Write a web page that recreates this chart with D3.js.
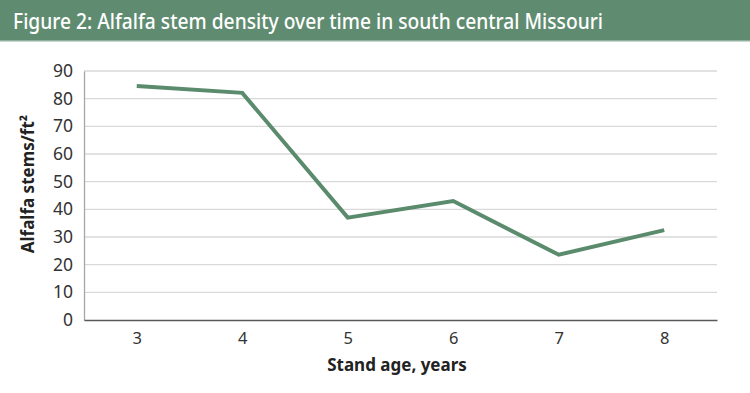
<!DOCTYPE html>
<html><head><meta charset="utf-8">
<script src="https://cdn.jsdelivr.net/npm/d3@7"></script>
<style>body{margin:0;background:#fff}svg{display:block}</style>
</head><body><svg id="c" width="750" height="393"></svg>
<script>
const titleText = "Figure 2: Alfalfa stem density over time in south central Missouri";
const categories = ["3","4","5","6","7","8"];
const stems = [84.6, 82.1, 37.0, 43.0, 23.6, 32.5];
const yTicks = [0,10,20,30,40,50,60,70,80,90];
const xLabel = "Stand age, years";
const yLabel = "Alfalfa stems/ft²";

const svg = d3.select("#c");
const W = 750, H = 393;
const m = {left:84, right:33, top:71, bottom:73};
const font = "'Noto Sans', sans-serif";

svg.append("rect").attr("x",0).attr("y",0).attr("width",W).attr("height",40).attr("fill","#5f8c71");
svg.append("rect").attr("x",0).attr("y",40).attr("width",W).attr("height",1.5).attr("fill","#8fb09c");
svg.append("text").attr("x",13).attr("y",29).attr("fill","#fff")
  .attr("font-family",font).attr("font-size",21).attr("font-weight",500)
  .attr("textLength",590).attr("lengthAdjust","spacingAndGlyphs")
  .text(titleText);

const x = d3.scalePoint().domain(categories).range([m.left, W-m.right]).padding(0.5);
const y = d3.scaleLinear().domain([0,90]).range([H-m.bottom, m.top]);

const g = svg.append("g");
g.selectAll("line.grid").data(yTicks.filter(d=>d>0)).join("line")
  .attr("x1",m.left).attr("x2",W-m.right)
  .attr("y1",d=>y(d)).attr("y2",d=>y(d))
  .attr("stroke","#d9d9d9").attr("stroke-width",1.3);

const ya = svg.append("g").attr("transform",`translate(${m.left},0)`)
  .call(d3.axisLeft(y).tickValues(yTicks).tickSize(0).tickPadding(11));
ya.select(".domain").attr("stroke","#a6a6a6").attr("stroke-width",1.3);
ya.selectAll("text").attr("font-family",font).attr("font-size",17.5).attr("fill","#333");

const xa = svg.append("g").attr("transform",`translate(0,${H-m.bottom})`)
  .call(d3.axisBottom(x).tickSize(0).tickPadding(12));
xa.select(".domain").attr("stroke","#595959").attr("stroke-width",1.5);
xa.selectAll("text").attr("font-family",font).attr("font-size",16.5).attr("fill","#333");

const line = d3.line().x((d,i)=>x(categories[i])).y(d=>y(d));
svg.append("path").datum(stems).attr("d",line).attr("fill","none")
  .attr("stroke","#5b8b6d").attr("stroke-width",4).attr("stroke-linejoin","miter");

svg.append("text").attr("x",397).attr("y",371).attr("text-anchor","middle")
  .attr("font-family",font).attr("font-size",17).attr("font-weight",700).attr("fill","#222").text(xLabel);
svg.append("text").attr("transform",`translate(34,184) rotate(-90)`).attr("text-anchor","middle")
  .attr("font-family",font).attr("font-size",17).attr("font-weight",700).attr("fill","#222").text(yLabel);
</script></body></html>
